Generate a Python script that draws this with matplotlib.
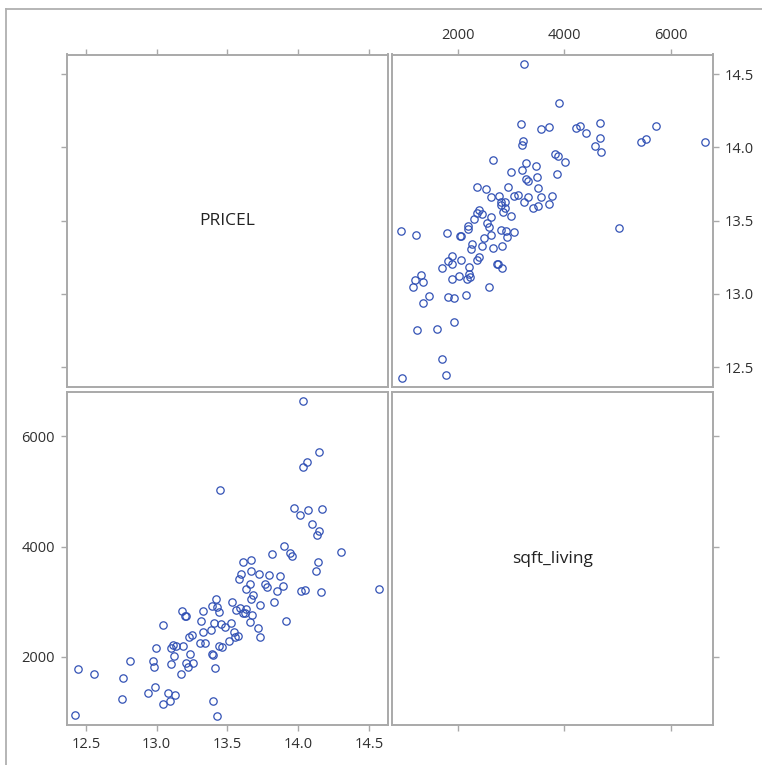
import numpy as np
import matplotlib
matplotlib.use("Agg")
import matplotlib.pyplot as plt
from matplotlib.lines import Line2D

plt.rcParams['font.family'] = ['Open Sans', 'DejaVu Sans']

pricel = [14.034, 14.147, 14.060, 14.034, 13.449, 13.968, 14.067, 14.168, 14.012, 14.097,
          14.147, 14.130, 13.897, 14.302, 13.942, 13.958, 13.817, 13.666, 13.610, 14.137,
          14.125, 13.664, 13.720, 13.597, 13.796, 13.873, 13.584, 13.659, 13.767, 13.782,
          13.890, 13.628, 13.847, 14.019, 14.045, 14.161, 14.568, 13.678, 13.669, 13.419,
          13.532, 13.831, 13.730, 13.388, 13.428, 13.588, 13.628, 13.178, 13.329, 13.438,
          13.560, 13.607, 13.624, 13.671, 13.202, 13.207, 13.313, 13.402, 13.456, 13.485,
          13.525, 13.659, 13.044, 13.383, 13.324, 13.546, 13.713, 13.732, 13.574, 13.555,
          13.251, 13.228, 13.513, 13.306, 13.343, 13.183, 13.134, 13.112, 13.101, 12.995,
          13.440, 13.461, 13.124, 13.232, 13.393, 13.397, 12.811, 12.973, 12.978, 13.098,
          13.207, 13.256, 13.224, 13.412, 12.443, 12.554, 13.174, 12.759, 12.985, 12.940,
          13.082, 13.129, 12.754, 13.096, 13.047, 13.400, 12.425, 13.428, 13.916]
sqft = [6639, 5716, 5535, 5439, 5023, 4691, 4667, 4679, 4570, 4413,
        4287, 4214, 4003, 3900, 3882, 3828, 3858, 3762, 3713, 3719,
        3557, 3557, 3496, 3496, 3484, 3460, 3412, 3321, 3321, 3273,
        3279, 3237, 3195, 3195, 3219, 3182, 3237, 3122, 3050, 3044,
        2989, 2989, 2935, 2917, 2899, 2881, 2875, 2833, 2827, 2808,
        2845, 2802, 2802, 2766, 2748, 2736, 2658, 2615, 2591, 2543,
        2615, 2627, 2585, 2495, 2446, 2446, 2531, 2362, 2386, 2362,
        2392, 2356, 2296, 2253, 2259, 2205, 2205, 2223, 2169, 2157,
        2193, 2181, 2024, 2054, 2054, 2042, 1934, 1922, 1819, 1879,
        1885, 1885, 1819, 1795, 1771, 1698, 1698, 1614, 1451, 1342,
        1342, 1306, 1228, 1198, 1149, 1204, 938, 926, 2658]

var_names = ['PRICEL', 'sqft_living']
price_ticks = [12.5, 13.0, 13.5, 14.0, 14.5]
sqft_ticks = [2000, 4000, 6000]
price_lim = (12.364, 14.634)
sqft_lim = (765, 6795)

gray = '#a9a9a9'
blue = '#3352b5'
W, H = 762, 765

fig = plt.figure(figsize=(W / 100, H / 100), dpi=100)

# outer frame (left and top edges visible)
fig.add_artist(Line2D([6 / W, 6 / W], [0, 1 - 9 / H], color='#b0b0b0', lw=1.3,
                      transform=fig.transFigure))
fig.add_artist(Line2D([6 / W, 1], [1 - 9 / H, 1 - 9 / H], color='#b0b0b0', lw=1.3,
                      transform=fig.transFigure))

cols = [(66.7, 388.0), (392.3, 713.0)]
rows = [(54.5, 387.0), (392.3, 725.0)]


def make_ax(r, c):
    x0, x1 = cols[c]
    y0, y1 = rows[r]
    ax = fig.add_axes([x0 / W, 1 - y1 / H, (x1 - x0) / W, (y1 - y0) / H])
    for s in ax.spines.values():
        s.set_color(gray)
        s.set_linewidth(1.4)
    ax.tick_params(colors=gray, labelcolor='#303030', length=4.5, width=1.0,
                   labelsize=10.5, pad=4)
    return ax


# upper-left: diagonal PRICEL
ax11 = make_ax(0, 0)
ax11.set_xlim(price_lim)
ax11.set_ylim(price_lim)
ax11.set_xticks(price_ticks)
ax11.set_yticks(price_ticks)
ax11.tick_params(bottom=False, top=True, labelbottom=False, labeltop=False,
                 left=True, labelleft=False)
ax11.text(0.5, 0.5, var_names[0], transform=ax11.transAxes, ha='center', va='center',
          fontsize=12.5, color='#222222')

# upper-right: sqft vs price
ax12 = make_ax(0, 1)
ax12.plot(sqft, pricel, 'o', mfc='none', mec=blue, ms=5.3, mew=0.9)
ax12.set_xlim(sqft_lim)
ax12.set_ylim(price_lim)
ax12.set_xticks(sqft_ticks)
ax12.set_yticks(price_ticks)
ax12.set_yticklabels([f'{v:.1f}' for v in price_ticks])
ax12.tick_params(bottom=False, top=True, labelbottom=False, labeltop=True,
                 left=False, labelleft=False, right=True, labelright=True)

# lower-left: price vs sqft
ax21 = make_ax(1, 0)
ax21.plot(pricel, sqft, 'o', mfc='none', mec=blue, ms=5.3, mew=0.9)
ax21.set_xlim(price_lim)
ax21.set_ylim(sqft_lim)
ax21.set_xticks(price_ticks)
ax21.set_xticklabels([f'{v:.1f}' for v in price_ticks])
ax21.set_yticks(sqft_ticks)

# lower-right: diagonal sqft_living
ax22 = make_ax(1, 1)
ax22.set_xlim(sqft_lim)
ax22.set_ylim(sqft_lim)
ax22.set_xticks(sqft_ticks)
ax22.set_yticks(sqft_ticks)
ax22.tick_params(labelbottom=False, left=False, labelleft=False, right=True,
                 labelright=False)
ax22.text(0.5, 0.5, var_names[1], transform=ax22.transAxes, ha='center', va='center',
          fontsize=12.5, color='#222222')

fig.savefig('out.png', dpi=100)
